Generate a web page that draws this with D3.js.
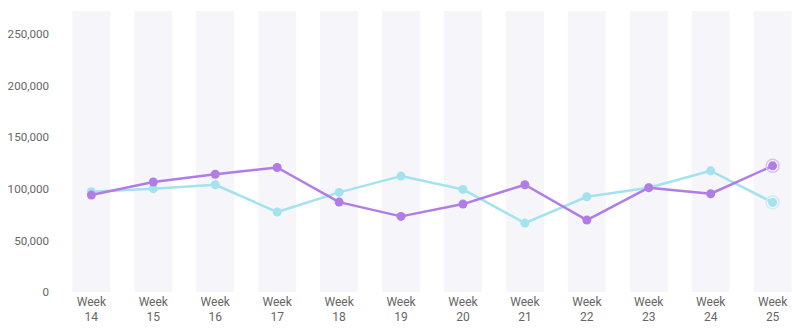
<!DOCTYPE html>
<html><head><meta charset="utf-8">
<script src="https://cdn.jsdelivr.net/npm/d3@7"></script>
<style>body{margin:0;background:#fff}svg{display:block}text{font-family:Roboto,sans-serif}</style>
</head><body><svg id="c" width="800" height="333"></svg>
<script>
const weeks = ["14","15","16","17","18","19","20","21","22","23","24","25"];
const purpleSeries = [93800,106500,114000,120500,87000,73200,85100,103800,69600,101000,95100,122100];
const cyanSeries = [97000,100000,103800,77400,96400,112200,99300,66700,92200,100900,117300,86700];
const yTicks = [0,50000,100000,150000,200000,250000];

const svg = d3.select("#c");
const x = d3.scaleBand().domain(weeks).range([60, 804]).paddingInner(0.387).paddingOuter(0.2);
const y = d3.scaleLinear().domain([0, 272000]).range([292, 11]);
const cx = d => x(d) + x.bandwidth()/2;

svg.append("g").selectAll("rect").data(weeks).join("rect")
  .attr("x", d => x(d)).attr("width", x.bandwidth())
  .attr("y", y(272000)).attr("height", y(0) - y(272000))
  .attr("fill", "#f5f5fa");

const yAxis = d3.axisLeft(y).tickValues(yTicks).tickFormat(d3.format(",")).tickSize(0).tickPadding(0);
const ya = svg.append("g").attr("transform","translate(49,0)").call(yAxis);
ya.select(".domain").remove();
ya.selectAll("text").attr("fill","#666").attr("font-size","11.6px");

const xa = svg.append("g");
weeks.forEach(w => {
  const t = xa.append("text").attr("x", cx(w)).attr("text-anchor","middle").attr("fill","#666").attr("font-size","12px");
  t.append("tspan").attr("x", cx(w)).attr("y", 306).text("Week");
  t.append("tspan").attr("x", cx(w)).attr("y", 320.5).text(w);
});

function series(vals, color, halo) {
  const line = d3.line().x((d,i) => cx(weeks[i])).y(d => y(d));
  svg.append("path").datum(vals).attr("d", line).attr("fill","none")
    .attr("stroke", color).attr("stroke-width", 2.5).attr("stroke-linejoin","round");
  svg.append("g").selectAll("circle").data(vals).join("circle")
    .attr("cx", (d,i) => cx(weeks[i])).attr("cy", d => y(d)).attr("r", 4.5).attr("fill", color);
  const last = vals.length - 1;
  svg.append("circle").attr("cx", cx(weeks[last])).attr("cy", y(vals[last])).attr("r", 6.5)
    .attr("fill","none").attr("stroke", halo).attr("stroke-width", 1.5);
}
series(cyanSeries, "#a3e3ef", "#cdeff6");
series(purpleSeries, "#b07de6", "#d6bff2");
</script></body></html>
